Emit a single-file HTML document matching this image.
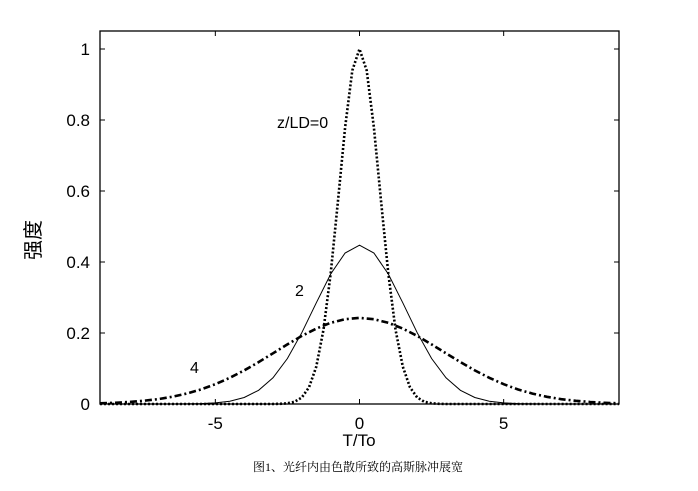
<!DOCTYPE html>
<html><head><meta charset="utf-8"><style>
body{margin:0;background:#fff;}
svg{display:block;font-family:"Liberation Sans",sans-serif;}
</style></head><body>
<svg id="chart" width="698" height="491">
<rect x="0" y="0" width="698" height="491" fill="#fff"/>
<g id="plot"></g>
<text x="40" y="240" font-size="20" transform="rotate(-90 40 240)" text-anchor="middle" font-family="'Liberation Sans','Noto Sans CJK SC',sans-serif">强度</text>
<text x="359" y="446" font-size="17" text-anchor="middle">T/To</text>
<text x="358" y="471" font-size="12" text-anchor="middle" font-family="'Liberation Serif','Noto Serif CJK SC',serif">图1、光纤内由色散所致的高斯脉冲展宽</text>
<text x="277" y="128" font-size="16">z/LD=0</text>
<text x="295" y="296" font-size="16">2</text>
<text x="190" y="373" font-size="16">4</text>
</svg>
<script>
const xTicks=[-5,0,5];
const yTicks=[0,0.2,0.4,0.6,0.8,1];
const yTickLabels=["0","0.2","0.4","0.6","0.8","1"];
const x0Vals=[-9,-3,-2.75,-2.5,-2.25,-2,-1.75,-1.5,-1.25,-1,-0.75,-0.5,-0.25,0,0.25,0.5,0.75,1,1.25,1.5,1.75,2,2.25,2.5,2.75,3,9];
const z0Vals=[0,0.0001,0.0005,0.0019,0.0063,0.0183,0.0468,0.1054,0.2096,0.3679,0.5698,0.7788,0.9394,1,0.9394,0.7788,0.5698,0.3679,0.2096,0.1054,0.0468,0.0183,0.0063,0.0019,0.0005,0.0001,0];
const xVals=[-9,-8.5,-8,-7.5,-7,-6.5,-6,-5.5,-5,-4.5,-4,-3.5,-3,-2.5,-2,-1.5,-1,-0.5,0,0.5,1,1.5,2,2.5,3,3.5,4,4.5,5,5.5,6,6.5,7,7.5,8,8.5,9];
const z2Vals=[0,0,0,0,0,0.0001,0.0003,0.0011,0.0030,0.0078,0.0182,0.0386,0.0739,0.1281,0.2009,0.2851,0.3661,0.4254,0.4472,0.4254,0.3661,0.2851,0.2009,0.1281,0.0739,0.0386,0.0182,0.0078,0.0030,0.0011,0.0003,0.0001,0,0,0,0,0];
const z4Vals=[0.0021,0.0035,0.0056,0.0089,0.0136,0.0202,0.0292,0.0409,0.0557,0.0737,0.0946,0.1180,0.1428,0.1679,0.1917,0.2124,0.2287,0.2390,0.2425,0.2390,0.2287,0.2124,0.1917,0.1679,0.1428,0.1180,0.0946,0.0737,0.0557,0.0409,0.0292,0.0202,0.0136,0.0089,0.0056,0.0035,0.0021];
const L=100,R=619,T=31,B=404,XMIN=-9,XMAX=9,YMIN=0,YMAX=1.0507;
const sx=v=>L+(v-XMIN)/(XMAX-XMIN)*(R-L);
const sy=v=>B-(v-YMIN)/(YMAX-YMIN)*(B-T);
const NS="http://www.w3.org/2000/svg";
const g=document.getElementById('plot');
function mk(t,a){const e=document.createElementNS(NS,t);for(const k in a)e.setAttribute(k,a[k]);g.appendChild(e);return e;}
function line(xs,ys,style,name){
  const d=xs.map((x,i)=>(i?'L':'M')+sx(x).toFixed(1)+','+sy(ys[i]).toFixed(1)).join('');
  const p=mk('path',Object.assign({d:d,fill:'none',stroke:'#000'},style));
  
  
}
line(xVals,z4Vals,{'stroke-width':2.6,'stroke-dasharray':'7,3,2,3'},'series-z4');
line(xVals,z2Vals,{'stroke-width':1},'series-z2');
line(x0Vals,z0Vals,{'stroke-width':2.6,'stroke-dasharray':'2,2'},'series-z0');
const fr=mk('rect',{x:L,y:T,width:R-L,height:B-T,fill:'none',stroke:'#000','stroke-width':1.3});


xTicks.forEach(v=>{
  const x=sx(v);
  const t1=mk('line',{x1:x,x2:x,y1:B,y2:B-5,stroke:'#000'});
  
  
  const t2=mk('line',{x1:x,x2:x,y1:T,y2:T+5,stroke:'#000'});
  
  
  const tx=mk('text',{x:x,y:B+25,'font-size':17,'text-anchor':'middle'});
  tx.textContent=String(v);
  
  
});
yTicks.forEach((v,i)=>{
  const y=sy(v);
  const t1=mk('line',{x1:L,x2:L+5,y1:y,y2:y,stroke:'#000'});
  
  
  const t2=mk('line',{x1:R,x2:R-5,y1:y,y2:y,stroke:'#000'});
  
  
  const tx=mk('text',{x:L-10,y:y+6,'font-size':17,'text-anchor':'end'});
  tx.textContent=yTickLabels[i];
  
  
});
</script>
</body></html>
